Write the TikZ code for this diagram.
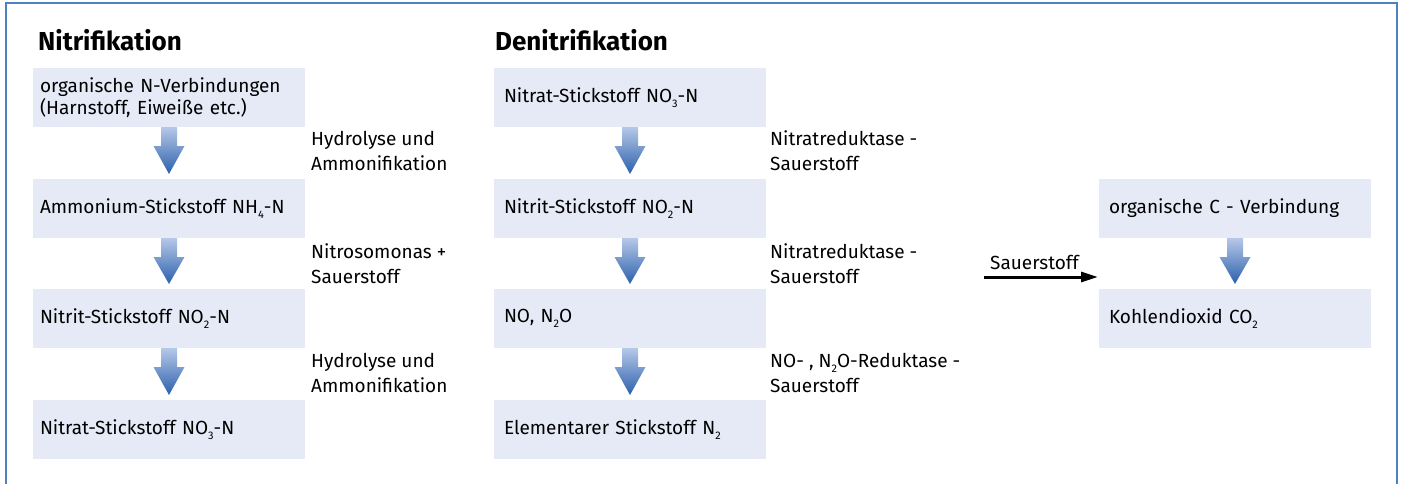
\documentclass[tikz,border=0pt]{standalone}
\usepackage{fontspec}
\setmainfont{Fira Sans}
\usetikzlibrary{calc,arrows.meta}
\definecolor{boxfill}{HTML}{E5EAF6}
\definecolor{arrtop}{HTML}{B6C8E8}
\definecolor{arrbot}{HTML}{2B60AC}
\definecolor{framecol}{HTML}{4A82C3}
\newcommand\chsub[1]{\raisebox{-0.45ex}{\fontsize{11}{11}\selectfont #1}}
\newcommand\blockarrow[2]{%
  \shade[top color=arrtop,bottom color=arrbot]
    ($(#1.south)+(-8,0)$) -- ($(#1.south)+(8,0)$) -- ($(#1.south)+(8,19)$)
    -- ($(#1.south)+(15.5,19)$) -- ($(#2.north)+(0,-5)$)
    -- ($(#1.south)+(-15.5,19)$) -- ($(#1.south)+(-8,19)$) -- cycle;}
\begin{document}
\begin{tikzpicture}[x=1pt,y=-1pt,
  chembox/.style={fill=boxfill, minimum width=272pt, minimum height=59pt, inner sep=0pt, outer sep=0pt,
    font=\fontsize{19}{22.5}\selectfont, align=left, text width=258pt},
  chemboxb/.style={chembox, text width=252pt},
  steplabel/.style={anchor=west, align=left, inner sep=0pt, font=\fontsize{19}{25}\selectfont},
  heading/.style={anchor=west, inner sep=0pt, font=\fontsize{26}{28}\bfseries\selectfont}]
\useasboundingbox (0,0) rectangle (1406,483);
\draw[framecol, line width=1.4pt] (6,490) -- (6,3) -- (1397,3) -- (1397,490);

\node[heading] (h1) at (38,40) {Nitrifikation};
\node[heading] (h2) at (495,40) {Denitrifikation};

% left column
\node[chembox, anchor=north west] (a1) at (33,68) {organische N-Verbindungen\\(Harnstoff, Eiweiße etc.)};
\node[chembox, anchor=north west] (a2) at (33,179) {Ammonium-Stickstoff NH\chsub{4}-N};
\node[chembox, anchor=north west] (a3) at (33,289) {Nitrit-Stickstoff NO\chsub{2}-N};
\node[chembox, anchor=north west] (a4) at (33,400) {Nitrat-Stickstoff NO\chsub{3}-N};
\blockarrow{a1}{a2}
\blockarrow{a2}{a3}
\blockarrow{a3}{a4}
\node[steplabel] (la1) at (311,151) {Hydrolyse und\\Ammonifikation};
\node[steplabel] (la2) at (311,263.5) {Nitrosomonas +\\Sauerstoff};
\node[steplabel] (la3) at (311,373) {Hydrolyse und\\Ammonifikation};

% middle column
\node[chemboxb, anchor=north west] (b1) at (494,68) {Nitrat-Stickstoff NO\chsub{3}-N};
\node[chemboxb, anchor=north west] (b2) at (494,179) {Nitrit-Stickstoff NO\chsub{2}-N};
\node[chemboxb, anchor=north west] (b3) at (494,289) {NO, N\chsub{2}O};
\node[chemboxb, anchor=north west] (b4) at (494,400) {Elementarer Stickstoff N\chsub{2}};
\blockarrow{b1}{b2}
\blockarrow{b2}{b3}
\blockarrow{b3}{b4}
\node[steplabel] (lb1) at (770,151) {Nitratreduktase -\\Sauerstoff};
\node[steplabel] (lb2) at (770,263.5) {Nitratreduktase -\\Sauerstoff};
\node[steplabel] (lb3) at (770,373) {NO- , N\chsub{2}O-Reduktase -\\Sauerstoff};

% right column
\node[chemboxb, anchor=north west] (c1) at (1099,179) {organische C - Verbindung};
\node[chemboxb, anchor=north west] (c2) at (1099,289) {Kohlendioxid CO\chsub{2}};
\blockarrow{c1}{c2}
\coordinate (s1) at (984,277);
\coordinate (s2) at ($(c2.north west)+(-1,-12)$);
\draw[line width=3pt, -{Triangle[length=17pt,width=10pt]}] (s1) -- (s2);
\node[anchor=south west, inner sep=0pt, font=\fontsize{19}{20}\selectfont] (sl) at (990,270) {Sauerstoff};
\end{tikzpicture}
\end{document}
